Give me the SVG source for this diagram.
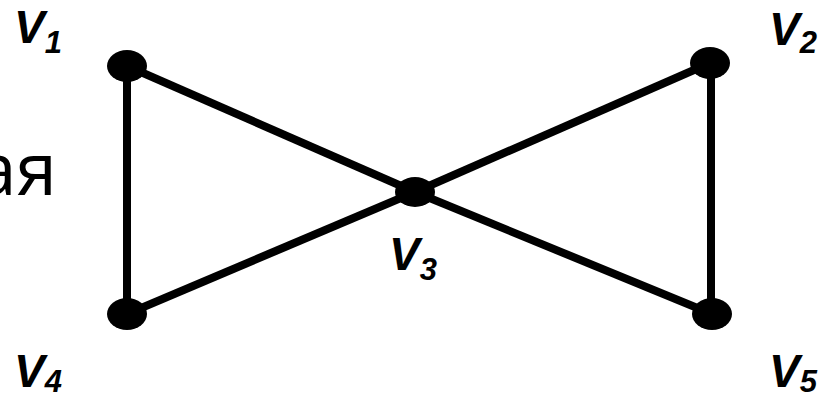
<svg xmlns="http://www.w3.org/2000/svg" width="827" height="394" viewBox="0 0 827 394">
<style>
.edge{stroke:#000;stroke-width:8;fill:none}
.node{fill:#000}
.lbl{font-family:"Liberation Sans",Arial,sans-serif;font-weight:bold;font-style:italic;fill:#000}
.v{font-size:46px}
.sub{font-size:31px}
.word{font-family:"Open Sans","Noto Sans",sans-serif;font-size:73px;fill:#000}
</style>
<rect width="827" height="394" fill="#fff"/>
<text class="word" x="57" y="195" text-anchor="end">ая</text>
<g id="connectors">
<line class="edge" x1="127" y1="66" x2="415" y2="192"/>
<line class="edge" x1="415" y1="192" x2="712" y2="314"/>
<line class="edge" x1="710" y1="63" x2="415" y2="192"/>
<line class="edge" x1="415" y1="192" x2="127" y2="314"/>
<line class="edge" x1="127" y1="66" x2="127" y2="314"/>
<line class="edge" x1="711" y1="63" x2="711" y2="314"/>
</g>
<g id="v1"><ellipse class="node" cx="127" cy="66" rx="20" ry="16"/><text class="lbl" x="14" y="43"><tspan class="v">V</tspan><tspan class="sub" dy="10">1</tspan></text></g>
<g id="v2"><ellipse class="node" cx="710" cy="63" rx="20" ry="16"/><text class="lbl" x="769" y="45"><tspan class="v">V</tspan><tspan class="sub" dy="8">2</tspan></text></g>
<g id="v3"><ellipse class="node" cx="415" cy="192" rx="20" ry="15"/><text class="lbl" x="389" y="270"><tspan class="v">V</tspan><tspan class="sub" dy="10">3</tspan></text></g>
<g id="v4"><ellipse class="node" cx="127" cy="314" rx="20" ry="16"/><text class="lbl" x="14" y="387"><tspan class="v">V</tspan><tspan class="sub" dy="5">4</tspan></text></g>
<g id="v5"><ellipse class="node" cx="712" cy="314" rx="20" ry="16"/><text class="lbl" x="769" y="387"><tspan class="v">V</tspan><tspan class="sub" dy="5">5</tspan></text></g>
</svg>
